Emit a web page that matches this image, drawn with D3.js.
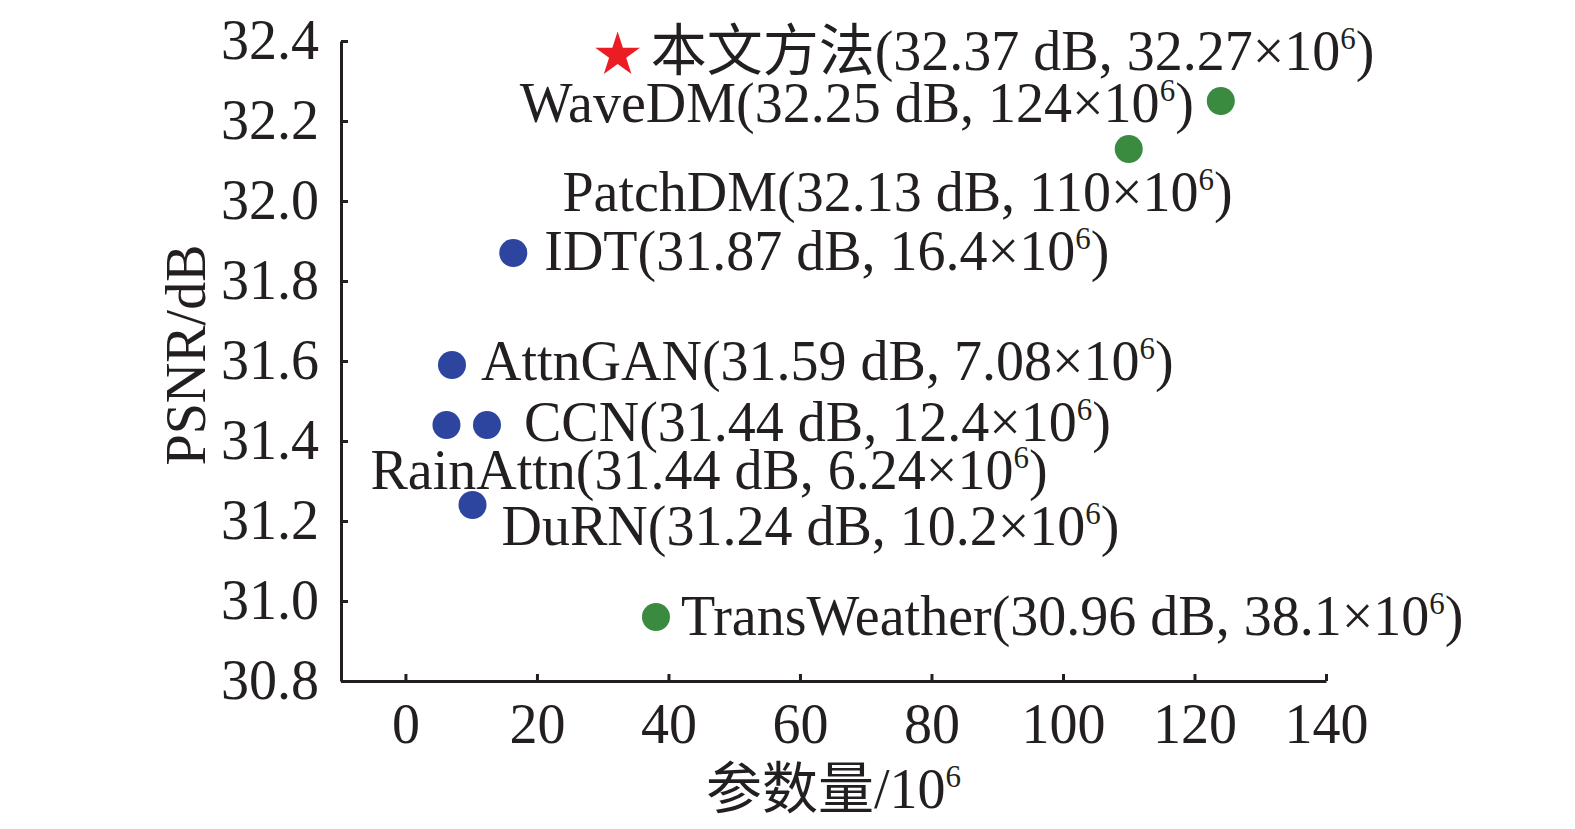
<!DOCTYPE html>
<html>
<head>
<meta charset="utf-8">
<script src="https://cdn.jsdelivr.net/npm/d3@7"></script>
<style>
  html, body { margin: 0; padding: 0; background: #fff; overflow: hidden; }
  svg { display: block; }
  text { font-family: "Liberation Serif", "Times New Roman", "Noto Sans CJK SC", serif; fill: #231f20; }
</style>
</head>
<body>
<div id="chart"></div>
<script>
// data
const methods = ["本文方法", "WaveDM", "PatchDM", "IDT", "AttnGAN", "CCN", "RainAttn", "DuRN", "TransWeather"];
const psnr = [32.37, 32.25, 32.13, 31.87, 31.59, 31.44, 31.44, 31.24, 30.96];
const params = [32.27, 124, 110, 16.4, 7.08, 12.4, 6.24, 10.2, 38.1];
const groups = ["ours", "diffusion", "diffusion", "cnn", "cnn", "cnn", "cnn", "cnn", "diffusion"];
const xTicks = [0, 20, 40, 60, 80, 100, 120, 140];
const yTicks = [30.8, 31.0, 31.2, 31.4, 31.6, 31.8, 32.0, 32.2, 32.4];

// where each label sits relative to its marker
const labelPos = [
  {dx: 33, dy: 17, anchor: "start"},
  {dx: -27, dy: 21, anchor: "end"},
  {dx: 104, dy: 62, anchor: "end"},
  {dx: 31, dy: 17, anchor: "start"},
  {dx: 29, dy: 15, anchor: "start"},
  {dx: 37, dy: 16, anchor: "start"},
  {dx: -76, dy: 64, anchor: "start"},
  {dx: 29, dy: 40, anchor: "start"},
  {dx: 25, dy: 18, anchor: "start"}
];

const colors = {ours: "#ec1c24", diffusion: "#3a8b40", cnn: "#2e45a0"};

const W = 1575, H = 829;
const margin = {top: 41, right: 249, bottom: 148, left: 341},
  width = W - margin.left - margin.right,
  height = H - margin.top - margin.bottom;
const fs = 56;

const svg = d3.select("#chart")
  .append("svg")
    .attr("width", W)
    .attr("height", H)
  .append("g")
    .attr("transform", `translate(${margin.left}, ${margin.top})`);

const x = d3.scaleLinear().domain([-9.8, 140]).range([0, width]);
const y = d3.scaleLinear().domain([30.8, 32.4]).range([height, 0]);

// axes, ticks point inward
const xAxis = svg.append("g")
  .attr("transform", `translate(0, ${height})`)
  .call(d3.axisBottom(x).tickValues(xTicks).tickSize(-7).tickSizeOuter(0).tickPadding(22).tickFormat(d3.format("d")));

const yAxis = svg.append("g")
  .call(d3.axisLeft(y).tickValues(yTicks).tickSize(-7).tickSizeOuter(0).tickPadding(22).tickFormat(d3.format(".1f")));

[xAxis, yAxis].forEach(ax => {
  ax.selectAll("path, line").attr("stroke", "#231f20").attr("stroke-width", 3);
  ax.selectAll("text")
    .style("font-size", fs + "px")
    .style("font-family", "Liberation Serif, serif")
    .attr("fill", "#231f20");
});

// axis titles
svg.append("text")
  .attr("transform", `translate(${-136}, ${height / 2 - 6}) rotate(-90)`)
  .attr("text-anchor", "middle")
  .style("font-size", fs + "px")
  .text("PSNR/dB");

const xt = svg.append("text")
  .attr("x", width / 2)
  .attr("y", height + 127)
  .attr("text-anchor", "middle")
  .style("font-size", fs + "px");
xt.append("tspan").style("font-family", "Noto Sans CJK SC").text("参数量");
xt.append("tspan").text("/10");
xt.append("tspan").attr("dy", -21).style("font-size", "31px").text("6");

const data = methods.map((m, i) => ({name: m, psnr: psnr[i], params: params[i], group: groups[i], pos: labelPos[i]}));

// markers
svg.selectAll("circle.pt")
  .data(data.filter(d => d.group !== "ours"))
  .join("circle")
    .attr("class", "pt")
    .attr("cx", d => x(d.params))
    .attr("cy", d => y(d.psnr))
    .attr("r", 14)
    .attr("fill", d => colors[d.group]);

const star = d3.symbol().type(d3.symbolStar).size(620);
svg.selectAll("path.star")
  .data(data.filter(d => d.group === "ours"))
  .join("path")
    .attr("class", "star")
    .attr("d", star)
    .attr("transform", d => `translate(${x(d.params)}, ${y(d.psnr) + 2})`)
    .attr("fill", colors.ours);

// labels
const labels = svg.selectAll("text.lbl")
  .data(data)
  .join("text")
    .attr("class", "lbl")
    .attr("x", d => x(d.params) + d.pos.dx)
    .attr("y", d => y(d.psnr) + d.pos.dy)
    .attr("text-anchor", d => d.pos.anchor)
    .style("font-size", fs + "px");

labels.each(function(d) {
  const t = d3.select(this);
  if (/[\u4e00-\u9fff]/.test(d.name)) {
    t.append("tspan").style("font-family", "Noto Sans CJK SC").text(d.name);
  } else {
    t.append("tspan").text(d.name);
  }
  t.append("tspan").text(`(${d.psnr.toFixed(2)} dB, ${d.params}×10`);
  t.append("tspan").attr("dy", -21).style("font-size", "31px").text("6");
  t.append("tspan").attr("dy", 21).text(")");
});
</script>
</body>
</html>
